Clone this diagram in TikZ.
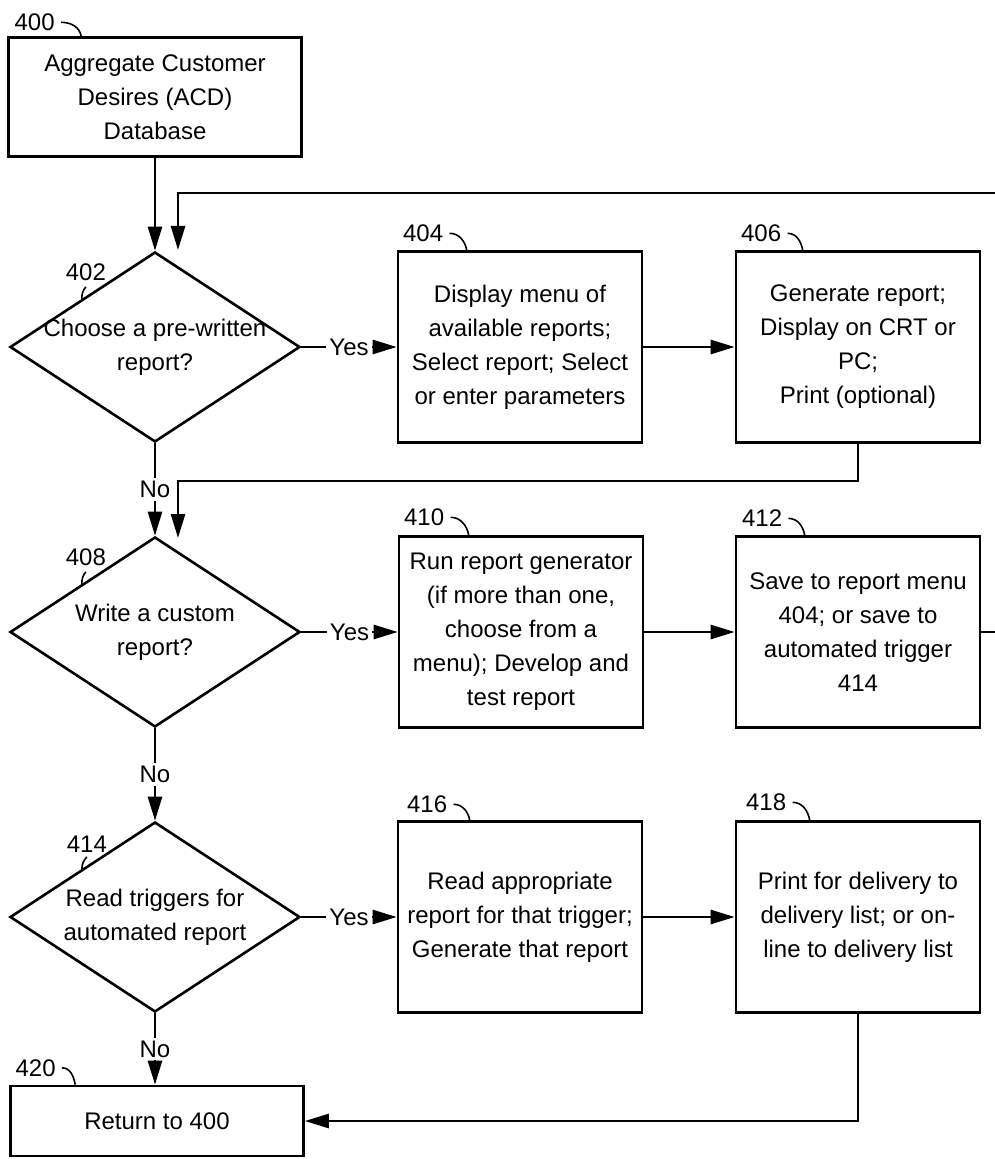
\documentclass[tikz,border=0pt]{standalone}
\usepackage{fontspec}
\setmainfont{Liberation Sans}
\usetikzlibrary{arrows.meta,positioning,shapes.geometric}
\tikzset{stepbox/.style={rectangle,draw=black,line width=1.3pt,minimum width=122pt,minimum height=95.5pt,align=center,inner sep=2pt}}
\tikzset{choice/.style={diamond,draw=black,line width=1.3pt,aspect=1.526,minimum width=145pt,minimum height=95pt,inner sep=0pt}}
\tikzset{txt/.style={align=center,inner sep=0pt}}
\tikzset{refnum/.style={inner sep=0pt}}
\tikzset{leader/.style={line width=0.8pt}}
\tikzset{flow/.style={line width=1.3pt,-{Triangle[length=12pt,width=7pt]}}}
\tikzset{answer/.style={fill=white,inner sep=1.5pt}}

\begin{document}
\begin{tikzpicture}[x=0.5pt,y=-0.5pt,font=\fontsize{12}{17}\selectfont]
\useasboundingbox (0,0) rectangle (994,1159);
% left column
\node (b400) [stepbox,minimum width=146.5pt,minimum height=59.5pt] at (155,97) {Aggregate Customer\\Desires (ACD)\\Database};
\node (d402) [choice] at (155,347) {};
\node (t402) [txt] at (d402) {Choose a pre-written\\report?};
\node (d408) [choice] at (155,632) {};
\node (t408) [txt] at (d408) {Write a custom\\report?};
\node (d414) [choice] at (155,917) {};
\node (t414) [txt] at (d414) {Read triggers for\\automated report};
\node (b420) [stepbox,minimum width=146.5pt,minimum height=35pt] at (157,1121) {Return to 400};
% middle and right columns
\node (b404) [stepbox] at (520,347) {Display menu of\\available reports;\\Select report; Select\\or enter parameters};
\node (b406) [stepbox] at (858,347) {Generate report;\\Display on CRT or\\PC;\\Print (optional)};
\node (b410) [stepbox] at (521,632) {Run report generator\\(if more than one,\\choose from a\\menu); Develop and\\test report};
\node (b412) [stepbox] at (858,632) {Save to report menu\\404; or save to\\automated trigger\\414};
\node (b416) [stepbox] at (520,917) {Read appropriate\\report for that trigger;\\Generate that report};
\node (b418) [stepbox] at (858,917) {Print for delivery to\\delivery list; or on-\\line to delivery list};
%
\coordinate (fb) at (178,193);
\coordinate (in402) at (178,250);
\coordinate (in408) at (178,538);
% reference numerals
\node (n400) [refnum,above right=2.5pt and 3.5pt of b400.north west] {400};
\node (n404) [refnum,above right=4pt and 3pt of b404.north west] {404};
\node (n406) [refnum,above right=4pt and 3pt of b406.north west] {406};
\node (n410) [refnum,above right=4.5pt and 3pt of b410.north west] {410};
\node (n412) [refnum,above right=4pt and 3.5pt of b412.north west] {412};
\node (n416) [refnum,above right=3.5pt and 5pt of b416.north west] {416};
\node (n418) [refnum,above right=4.5pt and 5.5pt of b418.north west] {418};
\node (n420) [refnum,above right=4pt and 3pt of b420.north west] {420};
\node (n402) [refnum,above=9pt of d402.north west,xshift=2pt] {402};
\node (n408) [refnum,above=9pt of d408.north west,xshift=2pt] {408};
\node (n414) [refnum,above=8pt of d414.north west,xshift=2.5pt] {414};
%
\draw[leader] ([xshift=3pt]n400.east) to[out=0,in=100] ([xshift=37pt]b400.north west);
\draw[leader] ([xshift=3pt]n404.east) to[out=0,in=100] ([xshift=35pt]b404.north west);
\draw[leader] ([xshift=3pt]n406.east) to[out=0,in=100] ([xshift=34pt]b406.north west);
\draw[leader] ([xshift=3pt]n410.east) to[out=0,in=100] ([xshift=35.5pt]b410.north west);
\draw[leader] ([xshift=3pt]n412.east) to[out=0,in=100] ([xshift=35pt]b412.north west);
\draw[leader] ([xshift=3pt]n416.east) to[out=0,in=100] ([xshift=36.5pt]b416.north west);
\draw[leader] ([xshift=3pt]n418.east) to[out=0,in=100] ([xshift=37.5pt]b418.north west);
\draw[leader] ([xshift=3pt]n420.east) to[out=0,in=100] ([xshift=33pt]b420.north west);
\draw[leader] ([yshift=-3pt]n402.south) to[bend right=20] (d402.north west);
\draw[leader] ([yshift=-3pt]n408.south) to[bend right=20] (d408.north west);
\draw[leader] ([yshift=-2pt]n414.south) to[bend right=20] (d414.north west);
% flow
\draw[flow] (b400.south) -- (d402.north);
\draw[flow] (d402.east) -- node[answer] {Yes} (b404.west);
\draw[flow] (b404) -- (b406);
\draw[flow] (b406.south) -- ++(0,37) -| (in408);
\draw[flow] (d402.south) -- node[answer] {No} (d408.north);
\draw[flow] (d408.east) -- node[answer] {Yes} (b410.west);
\draw[flow] (b410) -- (b412);
\draw[flow] (b412.east) -- ++(21,0) |- (fb) -- (in402);
\draw[flow] (d408.south) -- node[answer] {No} (d414.north);
\draw[flow] (d414.east) -- node[answer] {Yes} (b416.west);
\draw[flow] (b416) -- (b418);
\draw[flow] (d414.south) -- node[answer] {No} (d414.south |- b420.north);
\draw[flow] (b418.south) |- (b420.east);
\end{tikzpicture}
\end{document}
